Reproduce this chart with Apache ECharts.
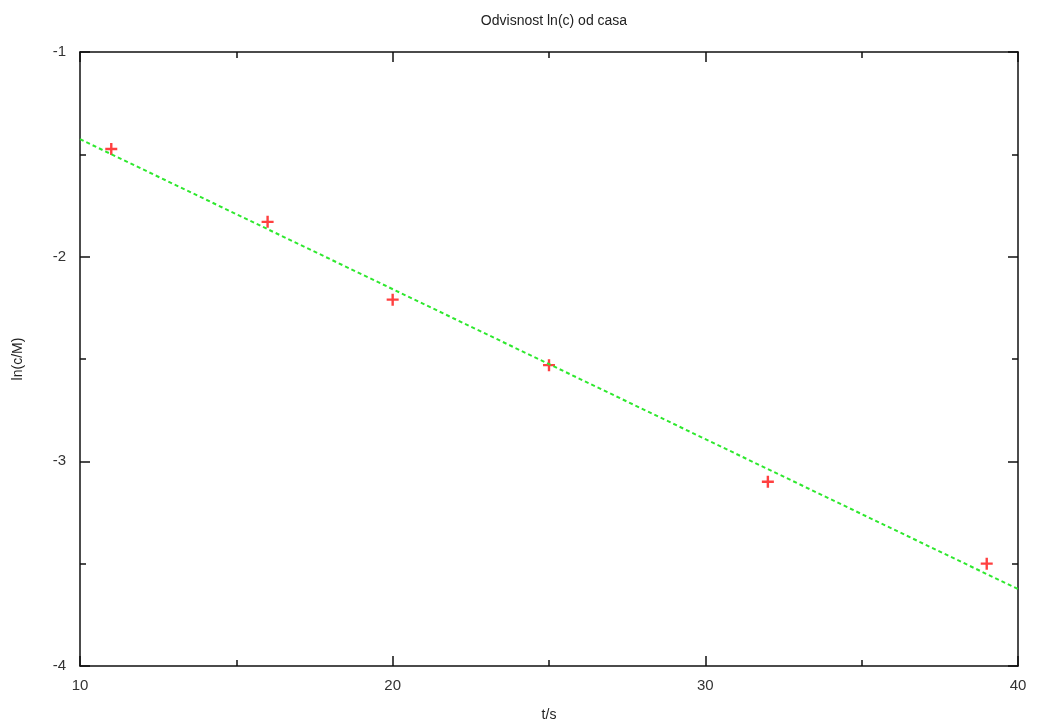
<!DOCTYPE html>
<html>
<head>
<meta charset="utf-8">
<script src="https://cdn.jsdelivr.net/npm/echarts@6/dist/echarts.min.js"></script>
<style>
  html, body { margin: 0; padding: 0; background: #fff; }
  #chart { width: 1037px; height: 728px; }
</style>
</head>
<body>
<div id="chart"></div>
<script>
// measured points
const timeS = [11, 16, 20, 25, 32, 39]
const lnC = [-1.474, -1.83, -2.21, -2.53, -3.10, -3.50]

// fitted line, read at the frame edges
const fitX = [10, 40]
const fitY = [-1.426, -3.624]

const plusPath = 'path://M4,0L6,0L6,4L10,4L10,6L6,6L6,10L4,10L4,6L0,6L0,4L4,4Z'
const font = 'Liberation Sans, Arial, sans-serif'

const chart = echarts.init(document.getElementById('chart'))

const frameLine = { show: true, onZero: false, lineStyle: { color: '#111', width: 1.5 } }

chart.setOption({
  animation: false,
  title: {
    text: 'Odvisnost ln(c) od casa',
    left: 549,
    textAlign: 'center',
    top: 9,
    textStyle: { fontFamily: font, fontSize: 14, fontWeight: 'normal', color: '#222' }
  },
  grid: { left: 80, right: 19, top: 52, bottom: 62 },
  xAxis: [
    {
      type: 'value', min: 10, max: 40, interval: 10,
      name: 't/s', nameLocation: 'middle', nameGap: 42,
      nameTextStyle: { fontFamily: font, fontSize: 14, color: '#222' },
      axisLine: frameLine,
      axisTick: { inside: true, length: 10, lineStyle: { color: '#111', width: 1.5 } },
      minorTick: { show: true, splitNumber: 2, length: 6, lineStyle: { color: '#111', width: 1.5 } },
      axisLabel: { fontFamily: font, fontSize: 15, color: '#333', margin: 12 },
      splitLine: { show: false }
    },
    {
      type: 'value', position: 'top', min: 10, max: 40, interval: 10,
      axisLine: frameLine,
      axisTick: { inside: true, length: 10, lineStyle: { color: '#111', width: 1.5 } },
      minorTick: { show: true, splitNumber: 2, length: 6, lineStyle: { color: '#111', width: 1.5 } },
      axisLabel: { show: false },
      splitLine: { show: false }
    }
  ],
  yAxis: [
    {
      type: 'value', min: -4, max: -1, interval: 1,
      name: 'ln(c/M)', nameLocation: 'middle', nameGap: 55,
      nameTextStyle: { fontFamily: font, fontSize: 14, color: '#222' },
      axisLine: frameLine,
      axisTick: { inside: true, length: 10, lineStyle: { color: '#111', width: 1.5 } },
      minorTick: { show: true, splitNumber: 2, length: 6, lineStyle: { color: '#111', width: 1.5 } },
      axisLabel: { fontFamily: font, fontSize: 15, color: '#333', margin: 14 },
      splitLine: { show: false }
    },
    {
      type: 'value', position: 'right', min: -4, max: -1, interval: 1,
      axisLine: frameLine,
      axisTick: { inside: true, length: 10, lineStyle: { color: '#111', width: 1.5 } },
      minorTick: { show: true, splitNumber: 2, length: 6, lineStyle: { color: '#111', width: 1.5 } },
      axisLabel: { show: false },
      splitLine: { show: false }
    }
  ],
  series: [
    {
      type: 'line',
      data: fitX.map((x, i) => [x, fitY[i]]),
      symbol: 'none',
      lineStyle: { color: '#2ee82e', width: 2, type: [4, 3] },
      silent: true
    },
    {
      type: 'scatter',
      data: timeS.map((t, i) => [t, lnC[i]]),
      symbol: plusPath,
      symbolSize: 12,
      itemStyle: { color: '#ff1010' }
    }
  ]
})
</script>
</body>
</html>
